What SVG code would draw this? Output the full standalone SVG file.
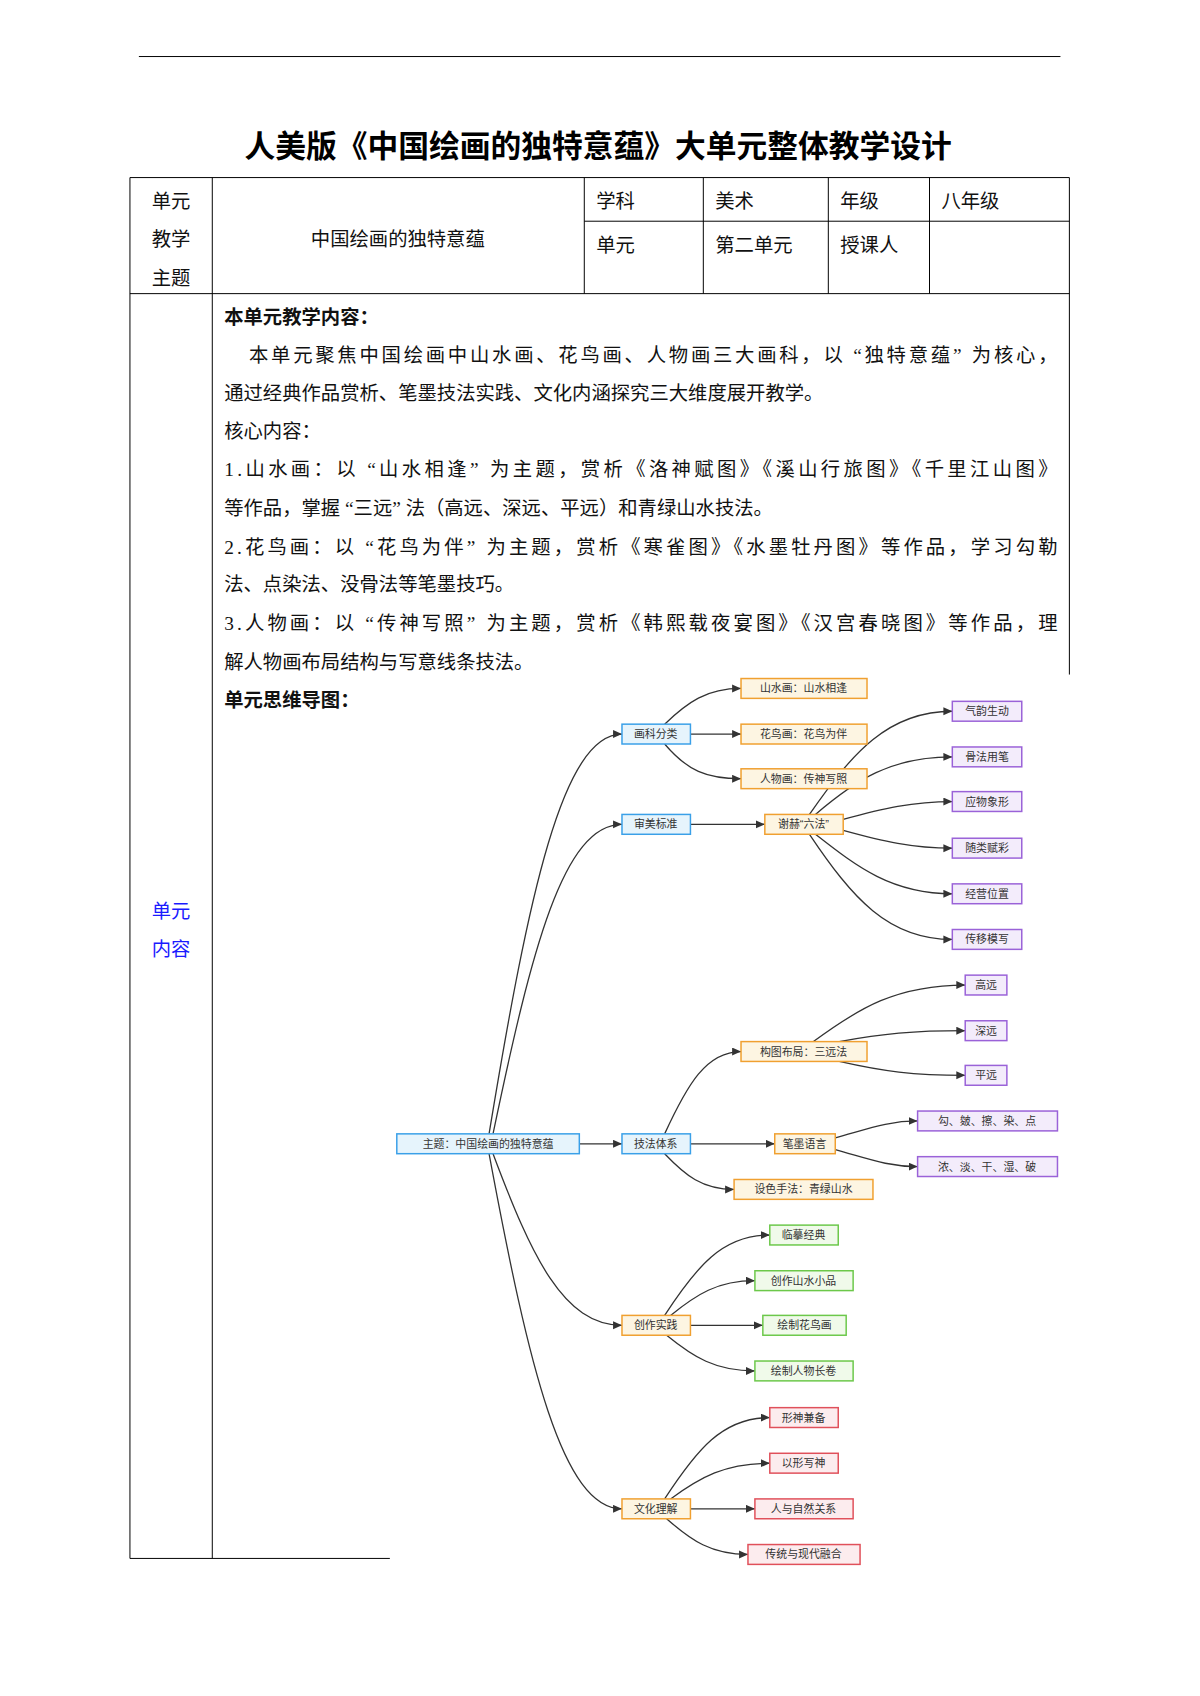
<svg xmlns="http://www.w3.org/2000/svg" width="1200" height="1696" viewBox="0 0 1200 1696">
<style>
.t{font-family:"Liberation Serif","Noto Sans CJK SC",serif;font-size:19.5px;fill:#111}
.b{font-weight:bold}
.n{font-family:"Liberation Sans","Noto Sans CJK SC",sans-serif;font-size:11px;fill:#333;text-anchor:middle;dominant-baseline:central}
.bl{fill:#e6f4fc;stroke:#3aa0e8;stroke-width:1.5}
.or{fill:#fdf5e2;stroke:#f0a030;stroke-width:1.5}
.pu{fill:#f3ecfb;stroke:#9a62d8;stroke-width:1.5}
.gr{fill:#f0faea;stroke:#6cc84a;stroke-width:1.5}
.rd{fill:#fcecee;stroke:#e0505a;stroke-width:1.5}
.e{fill:none;stroke:#333;stroke-width:1.3;marker-end:url(#a)}
.ln{stroke:#000;stroke-width:1}
</style>
<defs><marker id="a" markerUnits="userSpaceOnUse" markerWidth="10" markerHeight="10" refX="9" refY="4" orient="auto"><path d="M0,0 L9,4 L0,8 z" fill="#333"/></marker></defs>
<rect width="1200" height="1696" fill="#fff"/>
<g transform="scale(0.992)">
<line class="ln" x1="140" y1="57" x2="1069" y2="57"/>
<text x="603" y="158" text-anchor="middle" style="font-family:'Liberation Serif','Noto Sans CJK SC',serif;font-size:31px;font-weight:bold">人美版《中国绘画的独特意蕴》大单元整体教学设计</text>
<g id="table" fill="none">
<line class="ln" x1="131" y1="179" x2="1078" y2="179" stroke-width="1.5"/>
<line class="ln" x1="131" y1="296" x2="1078" y2="296" stroke-width="1.5"/>
<line class="ln" x1="589" y1="223" x2="1078" y2="223"/>
<line class="ln" x1="131" y1="179" x2="131" y2="1571"/>
<line class="ln" x1="214" y1="179" x2="214" y2="1571"/>
<line class="ln" x1="589" y1="179" x2="589" y2="296"/>
<line class="ln" x1="709" y1="179" x2="709" y2="296"/>
<line class="ln" x1="835" y1="179" x2="835" y2="296"/>
<line class="ln" x1="937" y1="179" x2="937" y2="296"/>
<line class="ln" x1="1078" y1="179" x2="1078" y2="680"/>
<line class="ln" x1="131" y1="1571" x2="393" y2="1571"/>
</g>
<g id="header-text" class="t">
<text x="153" y="210">单元</text><text x="153" y="248">教学</text><text x="153" y="287">主题</text>
<text x="401" y="248" text-anchor="middle">中国绘画的独特意蕴</text>
<text x="601" y="210">学科</text><text x="721" y="210">美术</text><text x="847" y="210">年级</text><text x="949" y="210">八年级</text>
<text x="601" y="254">单元</text><text x="721" y="254">第二单元</text><text x="847" y="254">授课人</text>
<text x="153" y="925" style="fill:#1a1aff">单元</text><text x="153" y="964" style="fill:#1a1aff">内容</text>
</g>
<g id="body-text" class="t">
<text x="226" y="327" class="b">本单元教学内容：</text>
<text x="251" y="365" textLength="815" lengthAdjust="spacing">本单元聚焦中国绘画中山水画、花鸟画、人物画三大画科，以 “独特意蕴” 为核心，</text>
<text x="226" y="403">通过经典作品赏析、笔墨技法实践、文化内涵探究三大维度展开教学。</text>
<text x="226" y="442">核心内容：</text>
<text x="226" y="480" textLength="840" lengthAdjust="spacing">1.山水画：以 “山水相逢” 为主题，赏析《洛神赋图》《溪山行旅图》《千里江山图》</text>
<text x="226" y="519">等作品，掌握 “三远” 法（高远、深远、平远）和青绿山水技法。</text>
<text x="226" y="558" textLength="840" lengthAdjust="spacing">2.花鸟画：以 “花鸟为伴” 为主题，赏析《寒雀图》《水墨牡丹图》等作品，学习勾勒</text>
<text x="226" y="596">法、点染法、没骨法等笔墨技巧。</text>
<text x="226" y="635" textLength="840" lengthAdjust="spacing">3.人物画：以 “传神写照” 为主题，赏析《韩熙载夜宴图》《汉宫春晓图》等作品，理</text>
<text x="226" y="674">解人物画布局结构与写意线条技法。</text>
<text x="226" y="713" class="b">单元思维导图：</text>
</g>
<g id="edges">
<path class="e" d="M493,1143 C533,901 567,740 627,740"/>
<path class="e" d="M497,1143 C536,956 568,831 627,831"/>
<path class="e" d="M584,1153 L627,1153"/>
<path class="e" d="M497,1163 C536,1267 568,1336 627,1336"/>
<path class="e" d="M493,1163 C533,1378 567,1521 627,1521"/>
<path class="e" d="M670,730 C693,708 712,694 747,694"/>
<path class="e" d="M696,740 L747,740"/>
<path class="e" d="M670,750 C693,777 712,785 747,785"/>
<path class="e" d="M696,831 L771,831"/>
<path class="e" d="M816,821 C859,759 895,717 960,717"/>
<path class="e" d="M822,821 C863,786 898,763 960,763"/>
<path class="e" d="M850,826 C890,815 920,808 960,808"/>
<path class="e" d="M850,837 C890,848 920,855 960,855"/>
<path class="e" d="M822,841 C863,873 898,901 960,901"/>
<path class="e" d="M816,841 C859,905 895,947 960,947"/>
<path class="e" d="M670,1143 C693,1093 712,1060 747,1060"/>
<path class="e" d="M696,1153 L781,1153"/>
<path class="e" d="M670,1163 C691,1185 708,1199 740,1199"/>
<path class="e" d="M820,1050 C866,1016 904,993 973,993"/>
<path class="e" d="M846,1050 C890,1042 920,1039 973,1039"/>
<path class="e" d="M846,1070 C890,1080 920,1084 973,1084"/>
<path class="e" d="M842,1147 C875,1138 895,1130 925,1130"/>
<path class="e" d="M842,1159 C875,1168 895,1176 925,1176"/>
<path class="e" d="M670,1326 C702,1277 728,1245 776,1245"/>
<path class="e" d="M676,1326 C702,1305 723,1291 761,1291"/>
<path class="e" d="M696,1336 L769,1336"/>
<path class="e" d="M672,1346 C699,1368 721,1382 761,1382"/>
<path class="e" d="M670,1511 C702,1462 728,1429 776,1429"/>
<path class="e" d="M676,1511 C706,1489 731,1475 776,1475"/>
<path class="e" d="M696,1521 L761,1521"/>
<path class="e" d="M672,1531 C697,1553 717,1567 754,1567"/>
</g>
<g id="root"><rect class="bl" x="400" y="1143" width="184" height="20"/><text class="n" x="492" y="1153">主题：中国绘画的独特意蕴</text></g>
<g id="n1"><rect class="bl" x="627" y="730" width="69" height="20"/><text class="n" x="661" y="740">画科分类</text></g>
<g id="n2"><rect class="bl" x="627" y="821" width="69" height="20"/><text class="n" x="661" y="831">审美标准</text></g>
<g id="n3"><rect class="bl" x="627" y="1143" width="69" height="20"/><text class="n" x="661" y="1153">技法体系</text></g>
<g id="n4"><rect class="or" x="627" y="1326" width="69" height="20"/><text class="n" x="661" y="1336">创作实践</text></g>
<g id="n5"><rect class="or" x="627" y="1511" width="69" height="20"/><text class="n" x="661" y="1521">文化理解</text></g>
<g id="n11"><rect class="or" x="747" y="684" width="127" height="20"/><text class="n" x="810" y="694">山水画：山水相逢</text></g>
<g id="n12"><rect class="or" x="747" y="730" width="127" height="20"/><text class="n" x="810" y="740">花鸟画：花鸟为伴</text></g>
<g id="n13"><rect class="or" x="747" y="775" width="127" height="20"/><text class="n" x="810" y="785">人物画：传神写照</text></g>
<g id="n21"><rect class="or" x="771" y="821" width="79" height="20"/><text class="n" x="810" y="831">谢赫“六法”</text></g>
<g id="p1"><rect class="pu" x="960" y="707" width="70" height="20"/><text class="n" x="995" y="717">气韵生动</text></g>
<g id="p2"><rect class="pu" x="960" y="753" width="70" height="20"/><text class="n" x="995" y="763">骨法用笔</text></g>
<g id="p3"><rect class="pu" x="960" y="798" width="70" height="20"/><text class="n" x="995" y="808">应物象形</text></g>
<g id="p4"><rect class="pu" x="960" y="845" width="70" height="20"/><text class="n" x="995" y="855">随类赋彩</text></g>
<g id="p5"><rect class="pu" x="960" y="891" width="70" height="20"/><text class="n" x="995" y="901">经营位置</text></g>
<g id="p6"><rect class="pu" x="960" y="937" width="70" height="20"/><text class="n" x="995" y="947">传移模写</text></g>
<g id="n31"><rect class="or" x="747" y="1050" width="127" height="20"/><text class="n" x="810" y="1060">构图布局：三远法</text></g>
<g id="n32"><rect class="or" x="781" y="1143" width="61" height="20"/><text class="n" x="811" y="1153">笔墨语言</text></g>
<g id="n33"><rect class="or" x="740" y="1189" width="140" height="20"/><text class="n" x="810" y="1199">设色手法：青绿山水</text></g>
<g id="q1"><rect class="pu" x="973" y="983" width="42" height="20"/><text class="n" x="994" y="993">高远</text></g>
<g id="q2"><rect class="pu" x="973" y="1029" width="42" height="20"/><text class="n" x="994" y="1039">深远</text></g>
<g id="q3"><rect class="pu" x="973" y="1074" width="42" height="20"/><text class="n" x="994" y="1084">平远</text></g>
<g id="q4"><rect class="pu" x="925" y="1120" width="141" height="20"/><text class="n" x="995" y="1130">勾、皴、擦、染、点</text></g>
<g id="q5"><rect class="pu" x="925" y="1166" width="141" height="20"/><text class="n" x="995" y="1176">浓、淡、干、湿、破</text></g>
<g id="g1"><rect class="gr" x="776" y="1235" width="69" height="20"/><text class="n" x="810" y="1245">临摹经典</text></g>
<g id="g2"><rect class="gr" x="761" y="1281" width="99" height="20"/><text class="n" x="810" y="1291">创作山水小品</text></g>
<g id="g3"><rect class="gr" x="769" y="1326" width="84" height="20"/><text class="n" x="811" y="1336">绘制花鸟画</text></g>
<g id="g4"><rect class="gr" x="761" y="1372" width="99" height="20"/><text class="n" x="810" y="1382">绘制人物长卷</text></g>
<g id="r1"><rect class="rd" x="776" y="1419" width="69" height="20"/><text class="n" x="810" y="1429">形神兼备</text></g>
<g id="r2"><rect class="rd" x="776" y="1465" width="69" height="20"/><text class="n" x="810" y="1475">以形写神</text></g>
<g id="r3"><rect class="rd" x="761" y="1511" width="99" height="20"/><text class="n" x="810" y="1521">人与自然关系</text></g>
<g id="r4"><rect class="rd" x="754" y="1557" width="113" height="20"/><text class="n" x="810" y="1567">传统与现代融合</text></g>
</g>
</svg>
